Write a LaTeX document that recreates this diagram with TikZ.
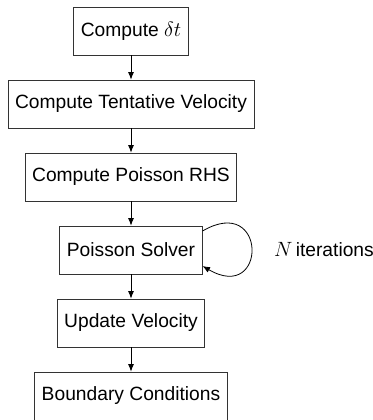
\documentclass[tikz,border=0pt]{standalone}
\usepackage{amsmath}
\usepackage{fontspec}
\setmainfont{Liberation Sans}
\usetikzlibrary{arrows.meta}

\tikzset{
  stepbox/.style={draw=black!80,line width=0.8bp,minimum height=48bp,inner xsep=7bp,inner ysep=0pt},
  flow/.style={line width=0.8bp,-{Latex[length=7.5bp,width=6bp]}}
}

\begin{document}
\begin{tikzpicture}[x=1bp,y=-1bp,font=\fontsize{19.3}{23}\selectfont]
  \useasboundingbox (0,0) rectangle (373,420);

  \node[stepbox] (dt)   at (131,31)  {Compute $\delta t$};
  \node[stepbox] (tent) at (131,104) {Compute Tentative Velocity};
  \node[stepbox] (rhs)  at (131,177) {Compute Poisson RHS};
  \node[stepbox] (ps)   at (131,250) {Poisson Solver};
  \node[stepbox] (upd)  at (131,323) {Update Velocity};
  \node[stepbox] (bc)   at (131,396) {Boundary Conditions};

  \node[anchor=west,inner sep=0pt] (iter) at (274,250) {$N$\,iterations};

  \draw[flow] (dt) -- (tent);
  \draw[flow] (tent) -- (rhs);
  \draw[flow] (rhs) -- (ps);
  \draw[flow] (ps) -- (upd);
  \draw[flow] (upd) -- (bc);
%  loop on the solver
  \draw[flow] ([yshift=19bp]ps.east) .. controls +(65,-38) and +(65,38) .. ([yshift=-16bp]ps.east);
\end{tikzpicture}
\end{document}
